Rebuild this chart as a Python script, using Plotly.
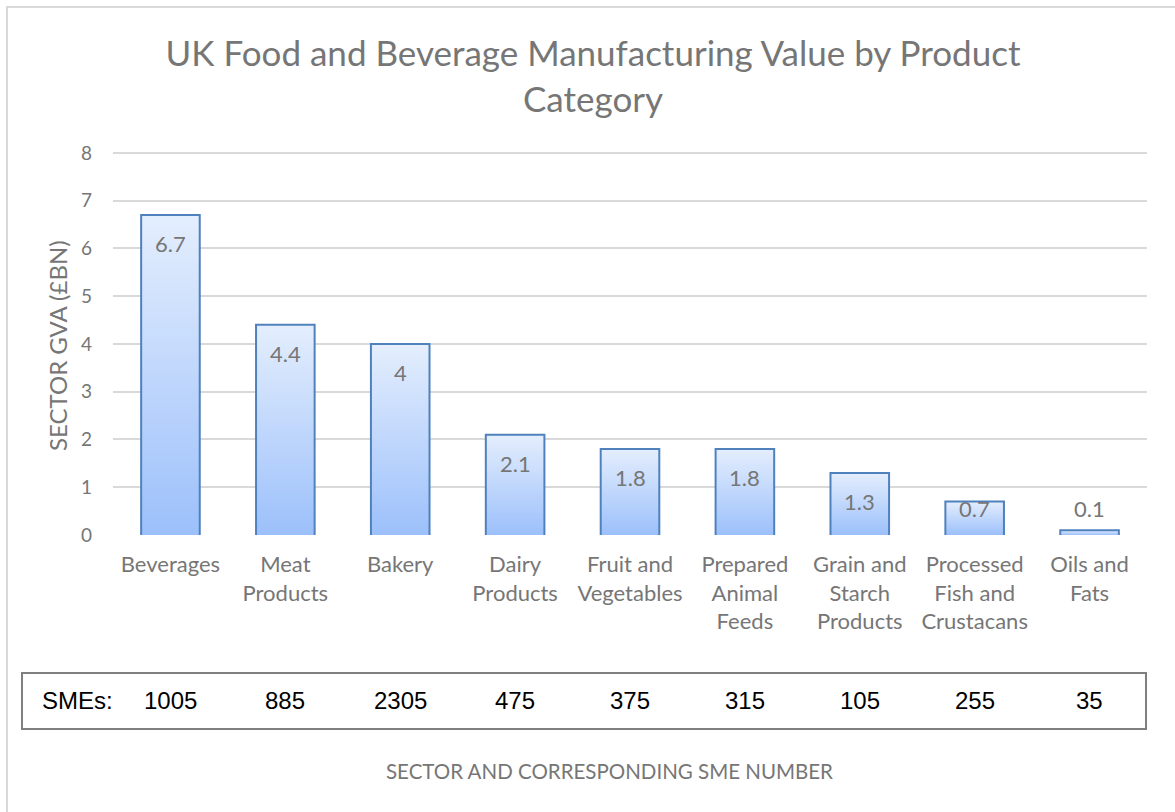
import plotly.graph_objects as go

# Sector data
categories = [
    "Beverages",
    "Meat<br>Products",
    "Bakery",
    "Dairy<br>Products",
    "Fruit and<br>Vegetables",
    "Prepared<br>Animal<br>Feeds",
    "Grain and<br>Starch<br>Products",
    "Processed<br>Fish and<br>Crustacans",
    "Oils and<br>Fats",
]
gva_bn = [6.7, 4.4, 4.0, 2.1, 1.8, 1.8, 1.3, 0.7, 0.1]
gva_labels = ["6.7", "4.4", "4", "2.1", "1.8", "1.8", "1.3", "0.7", "0.1"]
sme_counts = [1005, 885, 2305, 475, 375, 315, 105, 255, 35]
y_ticks = [0, 1, 2, 3, 4, 5, 6, 7, 8]

# Page geometry (pixels)
W, H = 1175, 812
Y_MAX = 8.04
PX_PER_UNIT = 47.75
PL, PR, PB = 113, 1147, 535
PT = round(PB - Y_MAX * PX_PER_UNIT)
BAR_W = 0.51

GREY_TXT = "#767676"
OUTLINE = "#4f81bd"
FONT = "Lato"


def px_x(p):
    return (p - PL) / (PR - PL)


def px_y(p):
    return (PB - p) / (PB - PT)


fig = go.Figure()

# Gradient-filled bar bodies
for i, v in enumerate(gva_bn):
    l, r = i - BAR_W / 2, i + BAR_W / 2
    fig.add_trace(go.Scatter(
        x=[l, l, r, r, l], y=[0, v, v, 0, 0],
        mode="lines", fill="toself",
        line=dict(width=0, color="rgba(0,0,0,0)"),
        fillgradient=dict(type="vertical",
                          colorscale=[[0, "#9cc0fb"], [1, "#e4eefd"]]),
        hoverinfo="skip", showlegend=False,
    ))

# Bar outlines (sides and top)
ox, oy = [], []
for i, v in enumerate(gva_bn):
    l, r = i - BAR_W / 2, i + BAR_W / 2
    ox += [l, l, r, r, None]
    oy += [0, v, v, 0, None]
fig.add_trace(go.Scatter(
    x=ox, y=oy, mode="lines",
    line=dict(color=OUTLINE, width=2),
    hoverinfo="skip", showlegend=False,
))

# Value labels near the top of each bar
for i, (v, t) in enumerate(zip(gva_bn, gva_labels)):
    fig.add_annotation(
        x=i, y=max(v - 0.6, 0.55), xref="x", yref="y",
        text=t, showarrow=False, xanchor="center", yanchor="middle",
        font=dict(family=FONT, size=22, color=GREY_TXT),
    )

# SME table box
fig.add_shape(type="rect", xref="paper", yref="paper",
              x0=px_x(22), x1=px_x(1146), y0=px_y(729), y1=px_y(673),
              line=dict(color="#7f7f7f", width=2), fillcolor="white",
              layer="below")
fig.add_annotation(x=px_x(40), y=px_y(700), xref="paper", yref="paper",
                   text="SMEs:", showarrow=False,
                   xanchor="left", yanchor="middle",
                   font=dict(family="Liberation Sans", size=24, color="#000000"))
for i, n in enumerate(sme_counts):
    fig.add_annotation(x=i, y=px_y(700), xref="x", yref="paper",
                       text=str(n), showarrow=False,
                       xanchor="center", yanchor="middle",
                       font=dict(family="Liberation Sans", size=24, color="#000000"))

# Outer chart border
fig.add_shape(type="rect", xref="paper", yref="paper",
              x0=px_x(7), x1=px_x(1190), y0=px_y(830), y1=px_y(7),
              line=dict(color="#d9d9d9", width=2), layer="below")

# Axis titles
fig.add_annotation(x=px_x(57), y=px_y(346), xref="paper", yref="paper",
                   text="SECTOR GVA (£BN)", textangle=-90, showarrow=False,
                   xanchor="center", yanchor="middle",
                   font=dict(family=FONT, size=24, color=GREY_TXT))
fig.add_annotation(x=px_x(609), y=px_y(771), xref="paper", yref="paper",
                   text="SECTOR AND CORRESPONDING SME NUMBER", showarrow=False,
                   xanchor="center", yanchor="middle",
                   font=dict(family=FONT, size=20.5, color=GREY_TXT))

fig.update_layout(
    width=W, height=H,
    margin=dict(l=PL, r=W - PR, t=PT, b=H - PB),
    paper_bgcolor="white", plot_bgcolor="white",
    title=dict(
        text="UK Food and Beverage Manufacturing Value by Product<br>Category",
        x=593 / W, xanchor="center", y=1 - 66 / H, yanchor="top",
        font=dict(family=FONT, size=35, color=GREY_TXT),
    ),
    xaxis=dict(
        range=[-0.5, 8.5], tickmode="array",
        tickvals=list(range(len(categories))), ticktext=categories,
        showgrid=False, zeroline=False, showline=False, ticks="",
        tickfont=dict(family=FONT, size=22, color=GREY_TXT),
        ticklabelstandoff=14, fixedrange=True,
    ),
    yaxis=dict(
        range=[0, Y_MAX], tickmode="array", tickvals=y_ticks,
        showgrid=True, gridcolor="#d9d9d9", gridwidth=1.5,
        zeroline=False, showline=False, ticks="",
        tickfont=dict(family=FONT, size=19, color=GREY_TXT),
        ticklabelstandoff=20, fixedrange=True,
    ),
    showlegend=False,
)

fig.write_html("out.html")
